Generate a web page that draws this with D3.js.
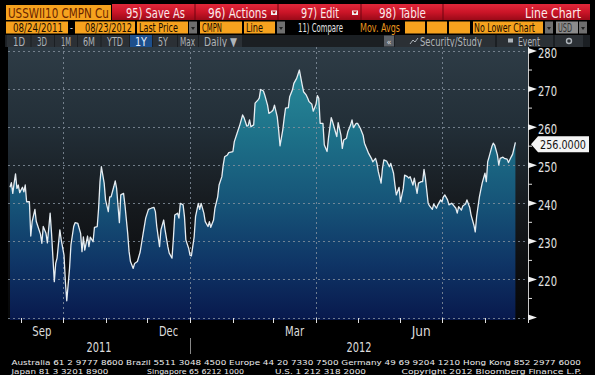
<!DOCTYPE html>
<html><head><meta charset="utf-8">
<script src="https://cdn.jsdelivr.net/npm/d3@7"></script>
<style>html,body{margin:0;padding:0;background:#000;overflow:hidden}svg{display:block}</style>
</head><body>
<svg id="c" width="595" height="375"></svg>
<script>
// ---------- DATA ----------
const ticker = "USSWII10 CMPN Cu";
const startDate = "2011-08-24", endDate = "2012-08-23";
const lastPriceLabel = "256.0000";
const dates = [
"2011-08-24","2011-08-25","2011-08-26","2011-08-27","2011-08-28","2011-08-29","2011-08-30","2011-08-31","2011-09-02","2011-09-03",
"2011-09-04","2011-09-05","2011-09-07","2011-09-08","2011-09-09","2011-09-11","2011-09-12","2011-09-14","2011-09-15","2011-09-16",
"2011-09-17","2011-09-19","2011-09-20","2011-09-22","2011-09-23","2011-09-25","2011-09-26","2011-09-27","2011-09-29","2011-09-30",
"2011-10-02","2011-10-03","2011-10-04","2011-10-06","2011-10-07","2011-10-09","2011-10-10","2011-10-12","2011-10-14","2011-10-15",
"2011-10-16","2011-10-17","2011-10-19","2011-10-20","2011-10-21","2011-10-23","2011-10-24","2011-10-26","2011-10-27","2011-10-28",
"2011-10-29","2011-10-31","2011-11-01","2011-11-03","2011-11-04","2011-11-05","2011-11-07","2011-11-08","2011-11-09","2011-11-11",
"2011-11-12","2011-11-14","2011-11-15","2011-11-17","2011-11-18","2011-11-19","2011-11-21","2011-11-22","2011-11-24","2011-11-26",
"2011-11-28","2011-11-30","2011-12-02","2011-12-04","2011-12-06","2011-12-07","2011-12-08","2011-12-10","2011-12-11","2011-12-13",
"2011-12-14","2011-12-16","2011-12-17","2011-12-19","2011-12-20","2011-12-21","2011-12-23","2011-12-24","2011-12-25","2011-12-27",
"2011-12-28","2011-12-29","2011-12-31","2012-01-01","2012-01-02","2012-01-04","2012-01-05","2012-01-07","2012-01-08","2012-01-09",
"2012-01-11","2012-01-12","2012-01-14","2012-01-15","2012-01-16","2012-01-18","2012-01-19","2012-01-21","2012-01-22","2012-01-24",
"2012-01-25","2012-01-26","2012-01-28","2012-01-29","2012-02-01","2012-02-02","2012-02-04","2012-02-06","2012-02-08","2012-02-09",
"2012-02-11","2012-02-12","2012-02-13","2012-02-14","2012-02-16","2012-02-17","2012-02-19","2012-02-20","2012-02-21","2012-02-23",
"2012-02-24","2012-02-26","2012-02-27","2012-02-29","2012-03-01","2012-03-02","2012-03-04","2012-03-05","2012-03-06","2012-03-08",
"2012-03-09","2012-03-10","2012-03-12","2012-03-13","2012-03-15","2012-03-16","2012-03-18","2012-03-19","2012-03-20","2012-03-22",
"2012-03-23","2012-03-25","2012-03-26","2012-03-27","2012-03-29","2012-03-30","2012-04-01","2012-04-02","2012-04-03","2012-04-04",
"2012-04-06","2012-04-07","2012-04-09","2012-04-10","2012-04-12","2012-04-13","2012-04-15","2012-04-16","2012-04-17","2012-04-19",
"2012-04-20","2012-04-21","2012-04-23","2012-04-24","2012-04-26","2012-04-27","2012-04-28","2012-04-30","2012-05-01","2012-05-03",
"2012-05-05","2012-05-06","2012-05-08","2012-05-09","2012-05-11","2012-05-12","2012-05-14","2012-05-15","2012-05-16","2012-05-18",
"2012-05-19","2012-05-20","2012-05-22","2012-05-24","2012-05-25","2012-05-27","2012-05-28","2012-05-29","2012-05-31","2012-06-01",
"2012-06-03","2012-06-04","2012-06-06","2012-06-07","2012-06-08","2012-06-10","2012-06-11","2012-06-13","2012-06-14","2012-06-16",
"2012-06-17","2012-06-18","2012-06-19","2012-06-21","2012-06-22","2012-06-24","2012-06-25","2012-06-27","2012-06-28","2012-06-30",
"2012-07-01","2012-07-02","2012-07-03","2012-07-05","2012-07-06","2012-07-08","2012-07-09","2012-07-11","2012-07-12","2012-07-13",
"2012-07-15","2012-07-16","2012-07-18","2012-07-19","2012-07-21","2012-07-22","2012-07-24","2012-07-25","2012-07-26","2012-07-28",
"2012-07-29","2012-07-30","2012-08-01","2012-08-02","2012-08-03","2012-08-04","2012-08-06","2012-08-07","2012-08-08","2012-08-10",
"2012-08-11","2012-08-12","2012-08-14","2012-08-15","2012-08-17","2012-08-18","2012-08-20","2012-08-21","2012-08-23"
];
const values = [
244.2,245.4,242.6,245.3,247.7,243.9,244.8,242.8,244.2,243.0,
244.8,240.4,240.4,231.4,235.2,238.4,235.2,233.0,231.9,229.5,
233.9,232.1,229.6,237.4,232.1,219.4,224.2,225.6,233.0,230.4,
226.4,219.4,214.4,222.9,229.0,233.9,234.9,234.7,232.1,227.3,
231.2,227.7,231.4,228.6,231.1,229.9,233.7,233.9,238.7,245.7,
249.6,245.3,240.9,237.8,241.7,241.7,244.4,245.9,243.9,234.9,
242.2,242.6,239.6,232.1,227.3,224.7,222.9,224.2,224.7,227.2,
231.7,236.1,238.4,238.7,238.9,237.8,233.9,228.6,233.0,235.6,
233.0,228.6,226.9,225.6,230.8,236.9,237.4,236.1,240.0,239.6,
236.5,230.4,228.2,226.4,226.2,231.2,236.5,240.0,238.4,240.0,
237.4,235.2,233.9,235.2,233.7,235.6,238.7,241.7,244.8,247.0,
250.1,252.2,252.7,253.3,253.6,256.2,258.4,260.6,263.2,262.5,
260.3,260.4,261.9,260.1,260.6,266.3,267.1,267.6,269.9,269.5,
268.4,265.8,263.6,264.1,264.5,265.8,262.7,259.3,255.1,259.3,
262.3,265.0,265.1,268.0,269.8,271.5,272.8,273.9,275.0,271.1,
269.3,268.4,267.6,266.7,266.0,264.2,266.0,268.3,267.6,261.0,
261.0,255.3,253.6,257.1,262.5,261.4,258.8,257.5,261.2,257.9,
254.4,256.6,257.1,258.8,260.6,261.9,259.9,261.0,261.0,259.7,
257.9,255.8,254.0,253.1,251.8,250.9,251.8,250.5,248.3,245.3,
249.2,251.4,251.1,249.6,250.5,247.9,244.8,242.2,244.2,240.4,
243.9,247.4,247.0,246.6,247.0,244.8,246.6,242.6,245.3,245.7,
245.7,248.9,246.6,240.0,239.3,238.4,239.8,238.7,239.6,240.9,
240.4,241.7,242.2,240.9,239.6,240.0,239.6,238.7,237.4,239.1,
238.2,239.3,239.8,240.9,238.9,236.9,234.3,232.5,236.5,241.7,
243.5,245.3,247.9,245.7,250.9,252.2,254.9,255.8,255.3,252.7,
250.1,251.8,252.1,251.8,251.6,250.7,252.2,252.9,256.0
];
const yMajorTicks = [210,220,230,240,250,260,270,280];
const yMinorTicks = [215,225,235,245,255,265,275];
const yLabelTicks = [220,230,240,250,260,270,280];
const quarterMonths = ["Sep","Dec","Mar","Jun"];
const gridMonths = ["Oct","Jan","Apr","Jul"];
const years = [2011, 2012];

const row1Buttons = ["95) Save As","96) Actions","97) Edit","98) Table"];
const row1Icons = [false,true,true,false];
const rangeButtons = ["1D","3D","1M","6M","YTD","1Y","5Y","Max","Daily \u25BC"];
const selectedRange = "1Y";
const footer1 = "Australia 61 2 9777 8600 Brazil 5511 3048 4500 Europe 44 20 7330 7500 Germany 49 69 9204 1210 Hong Kong 852 2977 6000";
const footer2 = ["Japan 81 3 3201 8900","Singapore 65 6212 1000","U.S. 1 212 318 2000","Copyright 2012 Bloomberg Finance L.P."];

// ---------- SETUP ----------
const parse = d3.timeParse("%Y-%m-%d");
const data = d3.zip(dates, values).map(([d,v]) => ({date: parse(d), value: v}));
const svg = d3.select("#c");
const FN = "'DejaVu Sans Condensed','Liberation Sans Narrow',sans-serif";
const L = 8, R = 528, T = 47, B = 320;

const x = d3.scaleTime().domain([parse(startDate), parse(endDate)]).range([10, 515.4]);
const y = d3.scaleLinear().domain([210, 280]).range([317.5, 51]);

// text fitted to a width by horizontal scaling (so its real box matches what is drawn)
function txt(g, x0, yb, s, size, fill, w, anchor){
  const t = g.append("text").attr("x",0).attr("y",0).attr("font-family",FN).attr("font-size",size)
    .attr("fill",fill).attr("text-anchor",anchor||"start").text(s);
  let sx = 1;
  if (w) { const w0 = t.node().getComputedTextLength(); if (w0 > 0) sx = w / w0; }
  t.attr("transform",`translate(${x0},${yb}) scale(${sx},1)`);
  return t;
}

const defs = svg.append("defs");
const bg = defs.append("linearGradient").attr("id","bgG").attr("gradientUnits","userSpaceOnUse")
  .attr("x1",0).attr("x2",0).attr("y1",T).attr("y2",B);
[[0,"#2e3c46"],[0.3,"#222e37"],[0.6,"#15191d"],[0.85,"#0b0c0e"],[1,"#060707"]].forEach(s=>bg.append("stop").attr("offset",s[0]).attr("stop-color",s[1]));
const ag = defs.append("linearGradient").attr("id","arG").attr("gradientUnits","userSpaceOnUse")
  .attr("x1",0).attr("x2",0).attr("y1",60).attr("y2",B);
[[0,"#2a8e9c"],[0.3,"#1d7088"],[0.55,"#165478"],[0.78,"#0f3566"],[1,"#08194d"]].forEach(s=>ag.append("stop").attr("offset",s[0]).attr("stop-color",s[1]));
const rg = defs.append("linearGradient").attr("id","redG").attr("x1",0).attr("x2",0).attr("y1",0).attr("y2",1);
[[0,"#e0283a"],[0.5,"#cc1528"],[1,"#9a0a18"]].forEach(s=>rg.append("stop").attr("offset",s[0]).attr("stop-color",s[1]));

// ---------- HEADER ----------
const H = svg.append("g");
// row 1
H.append("rect").attr("x",6).attr("y",5).attr("width",105).attr("height",15).attr("fill","#f6a21e");
txt(H, 8, 17.5, ticker, 14, "#6a2500", 101);
H.append("rect").attr("x",112).attr("y",4).attr("width",478).attr("height",16).attr("fill","url(#redG)");
const bx = [112,195,278,361,443];
const r1pos = [[126,59],[208,59],[301,38],[379,47]];
row1Buttons.forEach((b,i)=>{
  const x1 = bx[i+1];
  H.append("line").attr("x1",x1).attr("x2",x1).attr("y1",4).attr("y2",20).attr("stroke","#6e0410");
  txt(H, r1pos[i][0], 17.5, b, 14, "#fbe9ea", r1pos[i][1]);
  if (row1Icons[i]){
    const ix = i===1 ? 271 : 352;
    H.append("rect").attr("x",ix).attr("y",10.5).attr("width",6).attr("height",4.5).attr("fill","#f0f0f0");
    H.append("path").attr("d",`M${ix+1},11.5 L${ix+5},11.5 L${ix+3},14Z`).attr("fill","#b00");
  }
});
txt(H, 525, 17.5, "Line Chart", 14, "#fbe9ea", 56);

// row 2
function obox(x0,x1,s,tx,tw,opt={}){
  H.append("rect").attr("x",x0).attr("y",21.5).attr("width",x1-x0).attr("height",12).attr("fill",opt.fill||"#f6a21e");
  if (s) txt(H, tx, 31.5, s, 12, opt.color||"#1a0d00", tw);
}
function dd(x0){
  H.append("rect").attr("x",x0).attr("y",21.5).attr("width",8).attr("height",12).attr("fill","#6f6f6f");
  H.append("path").attr("d",`M${x0+2},27 L${x0+6},27 L${x0+4},30Z`).attr("fill","#222");
}
obox(6,68,"08/24/2011",13,50);
txt(H, 71.5, 30.5, "-", 9, "#fff", null, "middle");
obox(75,135,"08/23/2012",85,47);
obox(137,188,"Last Price",139,39); dd(189);
obox(200,242,"CMPN",202,20);
obox(244,275,"Line",246,17); dd(277);
txt(H, 298, 31.5, "11) Compare", 12, "#e8e8e8", 45);
txt(H, 360, 31.5, "Mov. Avgs", 12, "#e8961e", 40);
[[405,425],[427,447],[449,470]].forEach(p=>obox(p[0],p[1],""));
obox(473,543,"No Lower Chart",474,61); dd(545);
obox(556,578,"USD",558,14,{fill:"#8b8b8b",color:"#303030"}); dd(579);

// row 3
H.append("rect").attr("x",5).attr("y",35).attr("width",585).attr("height",12).attr("fill","#1b1f23");
const rb = [[6.7,30.5],[31.5,54],[55,77],[78,100.5],[101.5,129],[130,152],[153,177],[178,198],[199,242]];
const rbt = [[13,12],[37,10],[61,10],[83,12],[107,16],[135,12],[158,10],[180,15],[204,33]];
rangeButtons.forEach((t,i)=>{
  const [x0,x1] = rb[i]; const sel = t===selectedRange;
  H.append("rect").attr("x",x0).attr("y",35).attr("width",x1-x0).attr("height",12).attr("fill",sel?"#1d4f8c":"#2b3035");
  txt(H, rbt[i][0], 45.5, t, 12, sel?"#e8f0ff":"#aeb4ba", rbt[i][1]);
});
H.append("rect").attr("x",384).attr("y",35.5).attr("width",10).attr("height",11).attr("fill","#5c6168");
txt(H, 389, 44.5, "\u00AB", 9, "#ddd", null, "middle");
[[395,495],[497,553],[555,583]].forEach(p=>{
  H.append("rect").attr("x",p[0]).attr("y",35).attr("width",p[1]-p[0]).attr("height",12).attr("fill","#2b3035");
});
txt(H, 420, 45.5, "Security/Study", 12, "#aeb4ba", 62);
txt(H, 518, 45.5, "Event", 12, "#aeb4ba", 22);
H.append("path").attr("d","M410,44 L413,40 L415,42 L418,38").attr("stroke","#aeb4ba").attr("fill","none");
H.append("rect").attr("x",508).attr("y",38.5).attr("width",5).attr("height",4).attr("fill","#aeb4ba");
H.append("circle").attr("cx",569).attr("cy",41).attr("r",2.5).attr("fill","none").attr("stroke","#aeb4ba").attr("stroke-width",1.4);

// ---------- PLOT ----------
svg.append("rect").attr("x",L).attr("y",T).attr("width",R-L).attr("height",B-T).attr("fill","url(#bgG)");
const area = d3.area().x(d=>x(d.date)).y0(B).y1(d=>y(d.value));
svg.append("path").datum(data).attr("d",area).attr("fill","url(#arG)");

const grid = svg.append("g").attr("stroke","#8793a0").attr("stroke-width",1).attr("stroke-dasharray","2,3").attr("opacity",0.8);
yMajorTicks.forEach(v=>grid.append("line").attr("x1",L).attr("x2",R).attr("y1",Math.round(y(v))+0.5).attr("y2",Math.round(y(v))+0.5));
const months = d3.timeMonth.range(new Date(2011,8,1), new Date(2012,8,2));
const fmtM = d3.timeFormat("%b");
months.filter(m=>gridMonths.includes(fmtM(m))).forEach(m=>{
  const gx = Math.round(x(m))+0.5;
  grid.append("line").attr("x1",gx).attr("x2",gx).attr("y1",T).attr("y2",B);
});

const line = d3.line().x(d=>x(d.date)).y(d=>y(d.value));
svg.append("path").datum(data).attr("d",line).attr("fill","none").attr("stroke","#e6edf2").attr("stroke-width",1.3).attr("stroke-linejoin","round");

// right axis
const ax = svg.append("g");
ax.append("line").attr("x1",R+0.5).attr("x2",R+0.5).attr("y1",T).attr("y2",B).attr("stroke","#c8c8c8");
yMajorTicks.forEach(v=>{
  const yy = y(v);
  ax.append("path").attr("d",`M${R},${yy-3} L${R+9},${yy} L${R},${yy+3}Z`).attr("fill","#f0f0f0");
});
yMinorTicks.forEach(v=>ax.append("line").attr("x1",R).attr("x2",R+4).attr("y1",y(v)).attr("y2",y(v)).attr("stroke","#e0e0e0"));
yLabelTicks.forEach(v=>txt(ax, 538, y(v)+7, v, 14, "#e2e2e2", 19));

// last price tag
const ly = y(values[values.length-1]) + 2;
ax.append("path").attr("d",`M531,${ly} L538,${ly-8} L589,${ly-8} L589,${ly+8} L538,${ly+8}Z`).attr("fill","#f4f4f4");
txt(ax, 540, ly+5, lastPriceLabel, 13, "#111", 46);

// bottom axis
const bx2 = svg.append("g");
months.forEach(m=>{
  const mx = Math.round(x(m))+0.5;
  bx2.append("line").attr("x1",mx).attr("x2",mx).attr("y1",318).attr("y2",323).attr("stroke","#e0e0e0");
});
months.filter(m=>quarterMonths.includes(fmtM(m)) && x(d3.timeMonth.offset(m,1)) <= R + 5).forEach(m=>{
  const mid = (x(m) + x(d3.timeMonth.offset(m,1)))/2;
  txt(bx2, mid, 336, fmtM(m), 14, "#dcdcdc", 19, "middle");
});
years.forEach(yr=>{
  const a = Math.max(L, x(new Date(yr,0,1))), b = Math.min(R, x(new Date(yr+1,0,1)));
  txt(bx2, (a+b)/2, 352, yr, 14, "#dcdcdc", 25, "middle");
});
const jx = Math.round(x(new Date(2012,0,1)))+0.5;
bx2.append("line").attr("x1",jx).attr("x2",jx).attr("y1",338).attr("y2",354).attr("stroke","#888");

// footer
txt(svg, 11.5, 364.5, footer1, 7.5, "#ececec", 570);
const f2x = [[11.5,97],[147,97],[275,91],[401.5,180]];
footer2.forEach((t,i)=>txt(svg, f2x[i][0], 373.5, t, 7.5, "#ececec", f2x[i][1]));
</script>
</body></html>
